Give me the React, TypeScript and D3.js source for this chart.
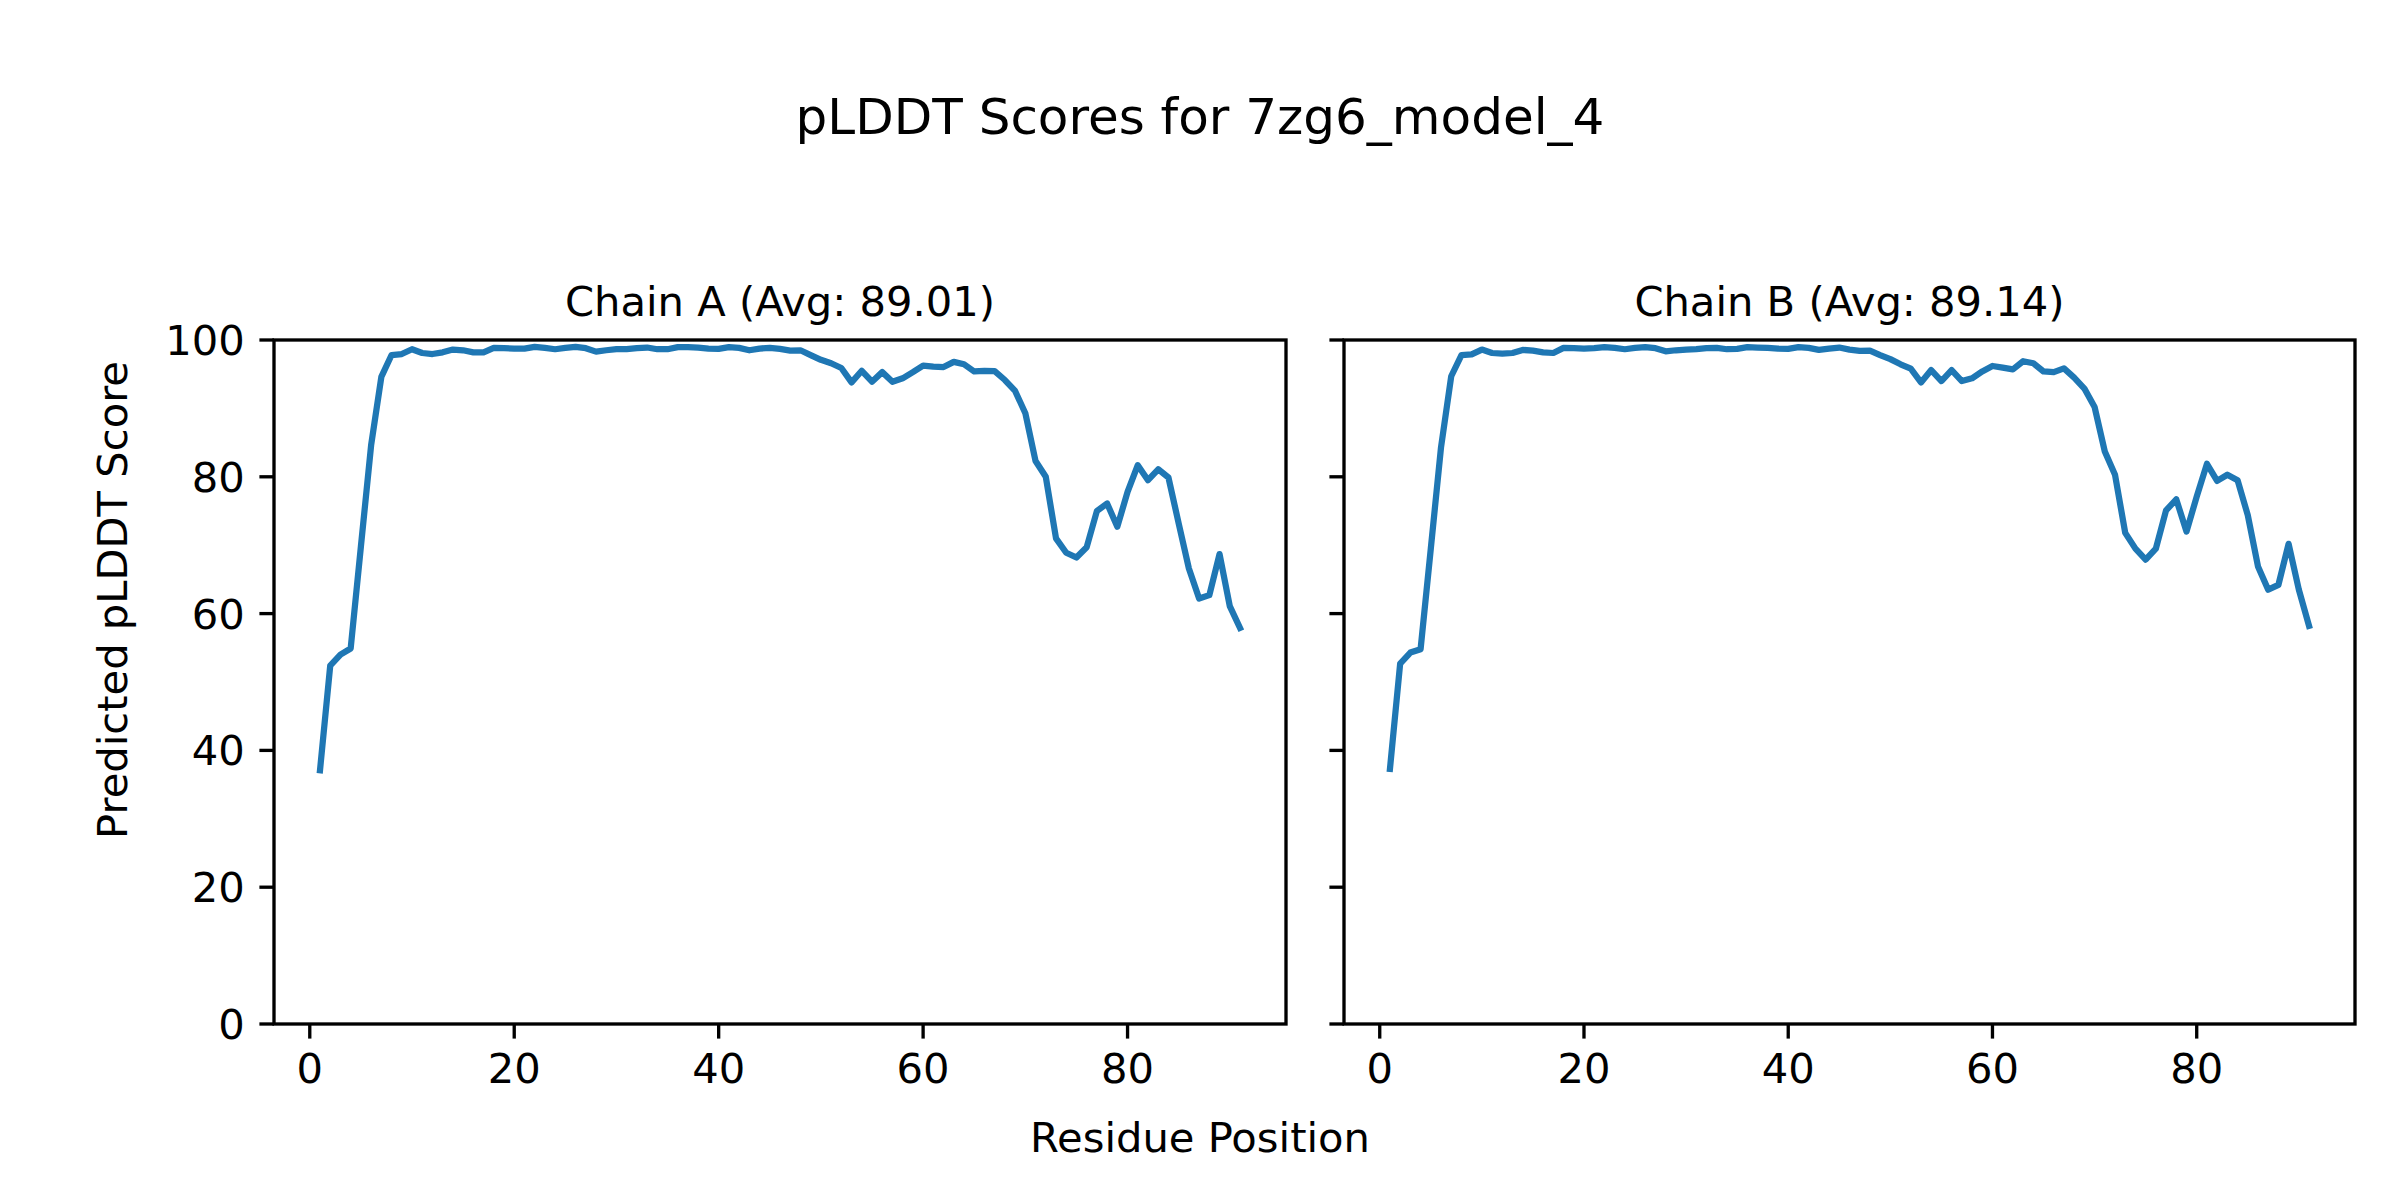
import React from 'react';
import * as d3 from 'd3';

// residue index and per-chain pLDDT values
const residues = d3.range(1, 92);

const chainA = [
  37.1, 52.4, 54.0, 54.9, 69.8, 84.6, 94.6, 97.8, 97.95, 98.65,
  98.1, 97.95, 98.2, 98.6, 98.5, 98.2, 98.2, 98.85, 98.8, 98.75,
  98.75, 99.0, 98.85, 98.65, 98.85, 99.0, 98.8, 98.3, 98.5, 98.65,
  98.65, 98.8, 98.9, 98.65, 98.65, 98.95, 98.95, 98.9, 98.75, 98.7,
  98.95, 98.85, 98.5, 98.75, 98.85, 98.7, 98.45, 98.5, 97.8, 97.1,
  96.6, 95.9, 93.8, 95.5, 93.9, 95.3, 93.9, 94.4, 95.3, 96.25,
  96.1, 96.05, 96.8, 96.45, 95.4, 95.5, 95.45, 94.15, 92.55, 89.3,
  82.3, 80.0, 71.0, 68.9, 68.2, 69.7, 75.0, 76.1, 72.7, 77.8,
  81.7, 79.5, 81.1, 79.9, 73.2, 66.6, 62.2, 62.7, 68.7, 61.1,
  57.9,
];

const chainB = [
  37.3, 52.7, 54.3, 54.8, 69.5, 84.3, 94.7, 97.8, 97.9, 98.6,
  98.1, 98.0, 98.1, 98.55, 98.45, 98.2, 98.1, 98.85, 98.8, 98.75,
  98.8, 98.95, 98.85, 98.65, 98.85, 98.95, 98.8, 98.35, 98.5, 98.6,
  98.65, 98.8, 98.85, 98.65, 98.7, 98.95, 98.9, 98.85, 98.75, 98.7,
  98.95, 98.85, 98.55, 98.75, 98.9, 98.6, 98.4, 98.45, 97.8, 97.2,
  96.45, 95.8, 93.8, 95.6, 94.0, 95.6, 94.0, 94.4, 95.4, 96.2,
  95.95, 95.7, 96.9, 96.6, 95.4, 95.3, 95.85, 94.5, 92.9, 90.2,
  83.7, 80.3, 71.8, 69.5, 67.9, 69.5, 75.1, 76.7, 72.0, 77.1,
  81.9, 79.4, 80.3, 79.5, 74.4, 66.9, 63.5, 64.2, 70.2, 63.5,
  58.2,
];

const chainNames = ['Chain A', 'Chain B'];
const chainAvgs = ['89.01', '89.14'];
const xTicks = [0, 20, 40, 60, 80];
const yTicks = [0, 20, 40, 60, 80, 100];

const W = 2400;
const H = 1200;
const top = 340;
const bottom = 1024;
const panels = [
  { left: 274, right: 1286, values: chainA },
  { left: 1344, right: 2355, values: chainB },
];

const FONT = '"DejaVu Sans", Verdana, sans-serif';
const small = 41.67; // 10pt @ 300dpi
const big = 50; // 12pt
const tickLen = 14.6;
const spineW = 3.33;
const blue = '#1f77b4';

const y = d3.scaleLinear().domain([0, 100]).range([bottom, top]);

function Panel({ idx }: { idx: number }) {
  const p = panels[idx];
  const x = d3.scaleLinear().domain([-3.5, 95.5]).range([p.left, p.right]);
  const line = d3
    .line<number>()
    .x((_, i) => x(residues[i]))
    .y((d) => y(d));
  const cx = (p.left + p.right) / 2;

  return (
    <g>
      <path
        d={line(p.values) || ''}
        fill="none"
        stroke={blue}
        strokeWidth={6.25}
        strokeLinejoin="round"
        strokeLinecap="square"
      />
      {/* x ticks */}
      {xTicks.map((t) => (
        <g key={'x' + t}>
          <line x1={x(t)} x2={x(t)} y1={bottom} y2={bottom + tickLen} stroke="#000" strokeWidth={spineW} />
          <text x={x(t)} y={1083} textAnchor="middle" fontSize={small} fontFamily={FONT}>
            {t}
          </text>
        </g>
      ))}
      {/* y ticks */}
      {yTicks.map((t) => (
        <g key={'y' + t}>
          <line x1={p.left - tickLen} x2={p.left} y1={y(t)} y2={y(t)} stroke="#000" strokeWidth={spineW} />
          {idx === 0 && (
            <text
              x={p.left - tickLen - 14.6}
              y={y(t)}
              dy="0.36em"
              textAnchor="end"
              fontSize={small}
              fontFamily={FONT}
            >
              {t}
            </text>
          )}
        </g>
      ))}
      <rect
        x={p.left}
        y={top}
        width={p.right - p.left}
        height={bottom - top}
        fill="none"
        stroke="#000"
        strokeWidth={spineW}
        strokeLinecap="square"
      />
      <text x={cx} y={316} textAnchor="middle" fontSize={small} fontFamily={FONT}>
        {`${chainNames[idx]} (Avg: ${chainAvgs[idx]})`}
      </text>
    </g>
  );
}

export default function App() {
  return (
    <div>
      <style>{'body{margin:0;background:#fff}'}</style>
      <svg width={W} height={H} viewBox={`0 0 ${W} ${H}`} style={{ display: 'block' }}>
        <rect width={W} height={H} fill="#fff" />
        <text x={W / 2} y={134} textAnchor="middle" fontSize={big} fontFamily={FONT}>
          pLDDT Scores for 7zg6_model_4
        </text>
        <Panel idx={0} />
        <Panel idx={1} />
        <text x={W / 2} y={1152} textAnchor="middle" fontSize={small} fontFamily={FONT}>
          Residue Position
        </text>
        <text
          transform="translate(127,600) rotate(-90)"
          textAnchor="middle"
          fontSize={small}
          fontFamily={FONT}
        >
          Predicted pLDDT Score
        </text>
      </svg>
    </div>
  );
}
